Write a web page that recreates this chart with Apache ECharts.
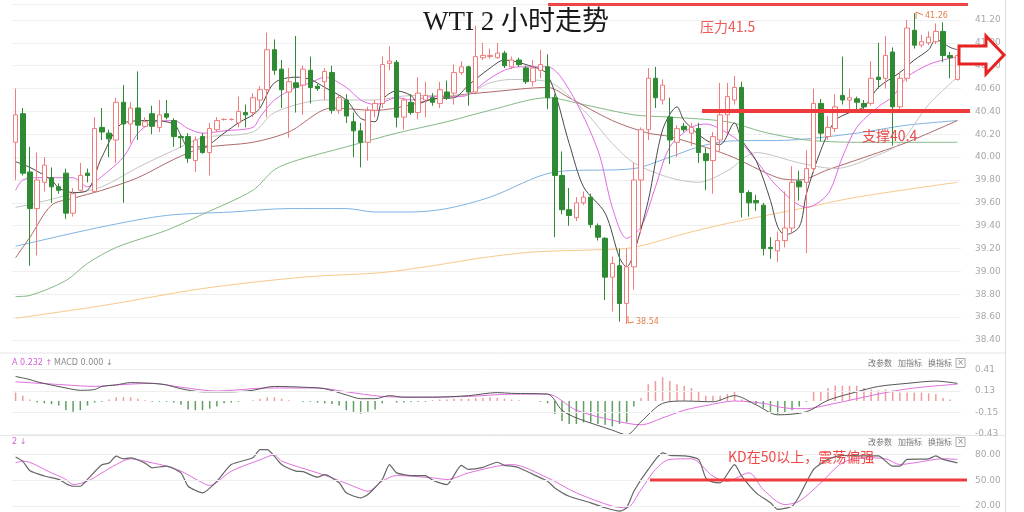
<!DOCTYPE html>
<html><head><meta charset="utf-8">
<script src="https://cdn.jsdelivr.net/npm/echarts@6/dist/echarts.min.js"></script>
<style>html,body{margin:0;padding:0;background:#fff}#c{width:1024px;height:512px}</style>
</head><body><div id="c"></div>
<script>
// candles: [open, close, low, high]
const ohlc = [
[40.13,40.37,39.80,40.60],[40.38,39.86,39.84,40.43],[39.87,39.55,39.05,40.09],[39.55,39.80,39.14,40.04],[39.78,39.93,39.70,40.00],
[39.82,39.74,39.60,39.91],[39.74,39.71,39.68,39.77],[39.86,39.51,39.46,39.90],[39.51,39.68,39.48,39.73],[39.71,39.84,39.70,39.95],
[39.86,39.84,39.78,39.90],[39.70,40.25,39.69,40.35],[40.26,40.22,40.15,40.43],[40.21,40.16,40.00,40.24],[40.15,40.48,39.95,40.52],
[40.48,40.29,39.60,40.63],[40.29,40.43,40.12,40.48],[40.43,40.28,40.15,40.75],[40.27,40.31,40.26,40.35],[40.38,40.27,40.20,40.45],
[40.26,40.37,40.22,40.50],[40.38,40.35,40.33,40.50],[40.32,40.18,40.09,40.34],[40.18,40.17,40.08,40.20],[40.18,39.99,39.95,40.21],
[39.97,40.15,39.87,40.18],[40.18,40.04,40.03,40.21],[40.04,40.25,39.84,40.30],[40.24,40.32,40.22,40.35],[40.33,40.33,40.32,40.34],
[40.33,40.33,40.32,40.34],[40.30,40.40,40.26,40.53],[40.39,40.37,40.26,40.46],[40.39,40.52,40.35,40.56],[40.50,40.59,40.42,40.62],
[40.59,40.94,40.35,41.09],[40.94,40.76,40.72,41.03],[40.77,40.59,40.43,40.85],[40.57,40.66,40.17,40.78],[40.65,40.61,40.39,41.06],
[40.63,40.77,40.37,40.80],[40.76,40.61,40.47,40.88],[40.62,40.60,40.58,40.64],[40.66,40.75,40.50,40.78],[40.74,40.41,40.38,40.80],
[40.41,40.52,40.38,40.55],[40.50,40.36,40.30,40.55],[40.31,40.23,40.00,40.39],[40.23,40.13,39.91,40.30],[40.13,40.41,39.97,40.44],
[40.41,40.47,40.35,40.50],[40.47,40.81,40.43,40.88],[40.82,40.84,40.76,40.97],[40.83,40.35,40.26,40.85],[40.35,40.50,40.24,40.52],
[40.48,40.39,40.37,40.55],[40.39,40.56,40.33,40.70],[40.50,40.54,40.35,40.66],[40.52,40.48,40.45,40.56],[40.47,40.59,40.43,40.66],
[40.57,40.52,40.50,40.67],[40.56,40.74,40.46,40.81],[40.74,40.79,40.72,40.84],[40.79,40.57,40.45,40.80],[40.57,40.88,40.55,41.15],
[40.87,40.89,40.85,41.00],[40.88,40.89,40.86,40.95],[40.87,40.91,40.86,41.00],[40.91,40.80,40.78,40.93],[40.79,40.85,40.77,40.88],
[40.85,40.81,40.79,40.87],[40.78,40.66,40.64,40.80],[40.66,40.78,40.62,40.85],[40.76,40.81,40.69,40.94],[40.79,40.52,40.42,40.90],
[40.52,39.84,39.30,40.55],[39.84,39.54,39.50,40.05],[39.54,39.49,39.40,39.73],[39.47,39.60,39.44,39.65],[39.60,39.65,39.58,39.70],
[39.65,39.41,39.38,39.68],[39.40,39.30,39.27,39.42],[39.29,38.95,38.75,39.30],[38.95,39.07,38.65,39.13],[39.05,38.72,38.56,39.20],
[38.72,39.04,38.54,39.20],[39.04,39.80,38.84,39.95],[39.80,40.24,39.33,40.26],[40.24,40.69,40.15,40.78],[40.69,40.52,40.43,40.79],
[40.50,40.63,40.46,40.68],[40.35,40.15,39.94,40.52],[40.13,40.25,40.00,40.28],[40.27,40.24,40.22,40.30],[40.21,40.26,40.10,40.30],
[40.25,40.04,39.95,40.30],[40.03,39.97,39.71,40.08],[39.97,40.18,39.68,40.22],[40.15,40.37,40.05,40.65],[40.37,40.53,40.21,40.65],
[40.50,40.61,40.46,40.71],[40.61,39.69,39.47,40.66],[39.69,39.60,39.48,39.71],[39.62,39.60,39.53,39.67],[39.58,39.20,39.14,39.60],
[39.21,39.20,39.11,39.30],[39.18,39.27,39.08,39.35],[39.27,39.38,39.21,39.70],[39.38,39.78,39.33,39.92],[39.79,39.74,39.62,39.88],
[39.78,39.90,39.16,40.06],[39.90,40.47,39.86,40.60],[40.47,40.21,40.14,40.51],[40.18,40.26,40.15,40.36],[40.25,40.44,40.22,40.55],
[40.54,40.50,40.46,40.88],[40.50,40.52,40.40,40.60],[40.51,40.48,40.40,40.53],[40.47,40.44,40.42,40.50],[40.47,40.69,40.45,40.84],
[40.70,40.68,40.60,41.00],[40.69,40.89,40.60,41.06],[40.92,40.44,40.10,40.96],[40.44,40.69,40.40,40.75],[40.69,41.13,40.66,41.20],
[41.11,40.98,40.95,41.26],[40.98,41.01,40.96,41.07],[41.00,41.05,40.98,41.10],[41.01,41.10,40.99,41.17],[41.10,40.89,40.83,41.18],
[40.89,40.87,40.69,40.92],[40.68,40.89,40.67,40.90]
];
// moving averages: [candle index, value]
const ma5 = [[0,39.96],[2,39.91],[5,39.80],[6,39.73],[8,39.69],[10,39.71],[12,40.0],[15,40.30],[19,40.32],[22,40.29],[23,40.19],[24,40.09],[26,40.09],[29,40.21],[31,40.30],[33,40.37],[34,40.43],[36,40.65],[39,40.70],[41,40.68],[43,40.61],[46,40.50],[48,40.34],[50,40.31],[51,40.50],[53,40.58],[55,40.54],[56,40.47],[58,40.51],[61,40.52],[63,40.63],[66,40.78],[68,40.85],[71,40.81],[74,40.72],[77,40.12],[79,39.74],[82,39.51],[84,39.12],[85,39.04],[86,39.16],[88,39.62],[90,40.24],[92,40.44],[93,40.32],[96,40.15],[98,40.11],[100,40.30],[101,40.15],[103,39.97],[105,39.62],[106,39.39],[107,39.32],[109,39.39],[110,39.68],[112,40.06],[114,40.32],[116,40.39],[118,40.44],[120,40.61],[123,40.74],[125,40.85],[127,40.94],[128,41.03],[130,40.96],[131,40.94]];
const ma10 = [[0,39.71],[1,39.80],[3,39.82],[8,39.82],[10,39.74],[11,39.78],[15,40.0],[17,40.21],[19,40.30],[22,40.32],[24,40.25],[26,40.21],[29,40.23],[33,40.26],[34,40.35],[36,40.50],[39,40.61],[41,40.65],[43,40.70],[46,40.61],[48,40.50],[50,40.46],[53,40.52],[55,40.50],[58,40.53],[62,40.53],[66,40.69],[68,40.76],[70,40.79],[74,40.79],[77,40.59],[81,40.06],[83,39.56],[85,39.29],[87,39.39],[89,39.74],[91,40.09],[94,40.26],[96,40.29],[99,40.21],[101,40.12],[103,39.97],[106,39.74],[110,39.56],[113,39.68],[115,40.0],[117,40.26],[120,40.44],[122,40.53],[124,40.70],[127,40.81],[129,40.85],[131,40.88]];
const ma20 = [[0,39.56],[3,39.60],[8,39.68],[12,39.74],[17,39.91],[22,40.06],[26,40.17],[33,40.22],[36,40.39],[43,40.50],[50,40.50],[55,40.54],[62,40.54],[66,40.65],[69,40.68],[74,40.66],[79,40.41],[83,40.12],[86,39.95],[91,39.82],[95,39.78],[99,39.88],[103,40.04],[109,39.95],[114,39.90],[120,40.02],[123,40.12],[127,40.46],[131,40.70]];
const ma30 = [[0,39.12],[2,39.30],[5,39.58],[8,39.64],[12,39.71],[17,39.82],[22,39.98],[26,40.08],[33,40.13],[38,40.22],[44,40.43],[50,40.41],[60,40.53],[66,40.57],[74,40.61],[77,40.52],[83,40.32],[88,40.21],[91,40.18],[99,40.02],[106,39.82],[109,39.80],[113,39.89],[120,40.04],[124,40.13],[131,40.32]];
const ma60 = [[0,38.78],[2,38.79],[7,38.92],[10,39.07],[14,39.21],[21,39.36],[26,39.50],[33,39.71],[36,39.89],[39,39.97],[46,40.09],[53,40.21],[60,40.31],[66,40.41],[74,40.52],[79,40.46],[86,40.37],[91,40.35],[99,40.31],[104,40.22],[110,40.15],[117,40.13],[131,40.13]];
const ma120 = [[0,39.22],[12,39.39],[21,39.49],[30,39.52],[38,39.55],[46,39.55],[50,39.52],[55,39.52],[60,39.55],[66,39.65],[75,39.87],[86,39.90],[91,40.0],[95,40.09],[99,40.14],[108,40.15],[117,40.21],[124,40.28],[131,40.32]];
const ma250 = [[0,38.59],[12,38.70],[26,38.85],[40,38.95],[51,38.99],[58,39.05],[65,39.12],[72,39.17],[81,39.19],[86,39.21],[93,39.33],[99,39.42],[110,39.56],[117,39.65],[131,39.78]];
// MACD panel
const macdHist = [
0.11,0.07,0.02,-0.02,-0.03,-0.04,-0.06,-0.12,-0.14,-0.12,
-0.06,-0.02,-0.01,0.02,0.05,0.05,0.05,0.03,0.01,-0.01,
-0.01,-0.01,-0.02,-0.05,-0.11,-0.12,-0.12,-0.10,-0.07,-0.03,
-0.02,-0.01,0.00,0.01,0.03,0.05,0.05,0.03,0.01,0.00,
-0.01,-0.01,-0.02,-0.03,-0.04,-0.06,-0.12,-0.14,-0.165,-0.14,
-0.11,-0.03,0.00,-0.02,-0.02,-0.01,-0.01,-0.01,0.01,0.02,
0.02,0.03,0.03,0.03,0.04,0.04,0.05,0.04,0.03,0.02,
0.01,0.00,0.00,-0.01,-0.03,-0.17,-0.26,-0.30,-0.30,-0.28,
-0.28,-0.30,-0.31,-0.33,-0.30,-0.28,-0.07,0.04,0.22,0.26,
0.31,0.26,0.22,0.20,0.17,0.13,0.07,0.07,0.07,0.09,
0.12,0.02,-0.02,-0.04,-0.09,-0.15,-0.17,-0.15,-0.12,-0.07,
-0.01,0.13,0.13,0.17,0.20,0.20,0.20,0.20,0.17,0.15,
0.14,0.15,0.14,0.11,0.11,0.11,0.11,0.10,0.09,0.04,
0.02,0.00];
const dif = [[0,0.32],[2,0.28],[3,0.25],[7,0.17],[9,0.14],[11,0.15],[12,0.19],[14,0.21],[16,0.24],[19,0.23],[21,0.21],[23,0.16],[26,0.12],[30,0.12],[33,0.14],[35,0.18],[36,0.19],[40,0.18],[43,0.16],[46,0.08],[48,0.03],[50,0.03],[52,0.07],[54,0.05],[58,0.05],[63,0.07],[67,0.11],[69,0.10],[74,0.09],[76,-0.12],[78,-0.22],[83,-0.38],[85,-0.44],[87,-0.27],[90,-0.03],[93,0.0],[97,-0.01],[100,0.07],[103,-0.05],[106,-0.18],[110,-0.14],[113,0.01],[117,0.12],[120,0.19],[124,0.23],[128,0.26],[131,0.23]];
const dea = [[0,0.25],[7,0.21],[11,0.19],[14,0.21],[19,0.23],[23,0.18],[28,0.13],[35,0.17],[42,0.17],[46,0.12],[51,0.06],[56,0.05],[63,0.06],[69,0.09],[74,0.09],[78,-0.12],[83,-0.25],[87,-0.31],[90,-0.22],[93,-0.12],[96,-0.06],[100,0.0],[104,-0.03],[107,-0.09],[110,-0.10],[113,-0.05],[117,0.03],[121,0.11],[125,0.17],[131,0.22]];
// KD panel
const kLine = [[0,77],[1,72],[2,61],[4,55],[6,51],[7,46],[8,43],[9,43],[10,51],[12,68],[13,70],[14,78],[15,75],[16,76],[18,70],[19,64.5],[21,66.4],[23,58.6],[24,43],[26,35.3],[28,48.9],[30,68.3],[33,76.2],[34,85.8],[35,85.8],[37,68.3],[39,60.6],[40,60],[42,53.6],[43,56.5],[45,47],[46,35.3],[48,29.5],[49,33.4],[51,50.9],[52,68.3],[53,58.6],[55,55.5],[57,55.5],[58,50.1],[60,45],[62,67.3],[63,62.6],[65,65],[67,71],[68,67.3],[69,66.4],[70,64.5],[73,52.8],[74,48.9],[75,41.1],[77,31.4],[80,23.7],[82,17.9],[84,14],[85,17.9],[86,37.2],[88,62.6],[90,82],[91,79],[93,78.4],[95,74.3],[96,52.8],[97,47.8],[98,47],[100,68.3],[101,54.7],[103,35.3],[105,23.7],[106,16],[108,19.8],[109,31.4],[111,62.6],[113,74.3],[115,79],[118,78.4],[120,78.4],[122,66.4],[123,66.4],[124,74.3],[127,75],[128,78.4],[129,74.3],[131,70.3]];
const dLine = [[0,70.3],[1,72.3],[5,58.6],[7,50.9],[8,45],[10,48.9],[12,58.6],[14,68.3],[16,75],[19,70.3],[21,66.4],[23,60.6],[26,47],[27,43.9],[30,60.6],[34,73.8],[36,79.6],[37,72.3],[42,58.6],[44,52.8],[47,43],[49,37.2],[51,48.9],[53,55.5],[58,52.8],[60,50.9],[63,58.6],[67,66.4],[69,68.3],[74,52.8],[78,35.3],[83,19.8],[85,17.9],[87,39.1],[89,62.6],[91,74.3],[94,75],[97,54.7],[99,48.9],[102,58.6],[104,39.1],[107,21.7],[109,25.6],[112,47],[115,70.3],[118,76.2],[121,75],[123,68.3],[125,70.3],[129,75],[131,74.3]];
const macdTicks = [0.41, 0.13, -0.15, -0.43];
const kdTicks = [20, 50, 80];

const cats = ohlc.map((_, i) => String(i));
const chart = echarts.init(document.getElementById('c'), null, {renderer: 'canvas'});
const labelStyle = {color: '#a8a8a8', fontSize: 9, fontFamily: 'DejaVu Sans'};
const gridL = 12, gridR = 63;
function xAx(gi) {
  return {type: 'category', gridIndex: gi, data: cats, boundaryGap: true,
    axisLine: {show: false}, axisTick: {show: false}, axisLabel: {show: false}, splitLine: {show: false}};
}
function maLine(data, color) {
  return {type: 'line', xAxisIndex: 0, yAxisIndex: 0, data, showSymbol: false, symbol: 'none',
    smooth: 0.3, lineStyle: {color, width: 1}, silent: true, z: 3};
}
function gridMark(vals) {
  return {symbol: 'none', silent: true, label: {show: false},
    lineStyle: {color: '#eeeeee', type: 'solid', width: 1},
    data: vals.map(v => ({yAxis: v}))};
}
function toolText(y) {
  const f = '8px "Noto Sans CJK SC"';
  return [
    {type: 'text', x: 868, y, style: {text: '改参数', font: f, fill: '#777777', textVerticalAlign: 'middle'}, z: 20},
    {type: 'text', x: 898, y, style: {text: '加指标', font: f, fill: '#777777', textVerticalAlign: 'middle'}, z: 20},
    {type: 'text', x: 928, y, style: {text: '换指标', font: f, fill: '#777777', textVerticalAlign: 'middle'}, z: 20},
    {type: 'rect', shape: {x: 956, y: y - 4.5, width: 9, height: 9}, style: {stroke: '#aaaaaa', fill: '#ffffff', lineWidth: 1}, z: 20},
    {type: 'text', x: 960.5, y: y - 0.5, style: {text: '×', font: '8px "DejaVu Sans"', fill: '#888', textAlign: 'center', textVerticalAlign: 'middle'}, z: 21}
  ];
}
const option = {
  animation: false,
  backgroundColor: '#ffffff',
  grid: [
    {left: gridL, right: gridR, top: 4, height: 336},
    {left: gridL, right: gridR, top: 355, height: 79},
    {left: gridL, right: gridR, top: 437, height: 75}
  ],
  xAxis: [xAx(0), xAx(1), xAx(2)],
  yAxis: [
    {type: 'value', gridIndex: 0, position: 'right', min: 38.4, max: 41.34, interval: 0.2, scale: true,
      axisLine: {show: false}, axisTick: {show: false},
      axisLabel: Object.assign({margin: 14, showMaxLabel: false, formatter: v => v.toFixed(2)}, labelStyle),
      splitLine: {lineStyle: {color: '#efefef'}}},
    {type: 'value', gridIndex: 1, position: 'right', min: -0.43, max: 0.6,
      axisLine: {show: false}, axisTick: {show: false, customValues: macdTicks},
      axisLabel: Object.assign({margin: 14, customValues: macdTicks, formatter: v => v.toFixed(2)}, labelStyle),
      splitLine: {show: false}},
    {type: 'value', gridIndex: 2, position: 'right', min: 13, max: 100.4,
      axisLine: {show: false}, axisTick: {show: false, customValues: kdTicks},
      axisLabel: Object.assign({margin: 14, customValues: kdTicks, formatter: v => v.toFixed(2)}, labelStyle),
      splitLine: {show: false}}
  ],
  series: [
    maLine(ma250, '#f8c98a'),
    maLine(ma120, '#80b4e2'),
    maLine(ma60, '#86b886'),
    maLine(ma30, '#b06a6a'),
    maLine(ma20, '#c4c4c4'),
    {type: 'candlestick', xAxisIndex: 0, yAxisIndex: 0, data: ohlc, barWidth: 5, z: 4,
      itemStyle: {color: '#ffffff', color0: '#2e8b33', borderColor: '#f07c7c', borderColor0: '#2e8b33', borderWidth: 1}},
    maLine(ma10, '#e36ae3'),
    maLine(ma5, '#4a4a4a'),
    {type: 'bar', xAxisIndex: 1, yAxisIndex: 1, barWidth: 1.5, silent: true,
      data: macdHist.map(v => ({value: v, itemStyle: {color: v >= 0 ? '#f09a9a' : '#5f9f5f'}})),
      markLine: gridMark(macdTicks)},
    {type: 'line', xAxisIndex: 1, yAxisIndex: 1, data: dea, showSymbol: false, smooth: 0.3, silent: true,
      lineStyle: {color: '#e070e0', width: 1}},
    {type: 'line', xAxisIndex: 1, yAxisIndex: 1, data: dif, showSymbol: false, smooth: 0.3, silent: true,
      lineStyle: {color: '#555555', width: 1}},
    {type: 'line', xAxisIndex: 2, yAxisIndex: 2, data: dLine, showSymbol: false, smooth: 0.3, silent: true,
      lineStyle: {color: '#e070e0', width: 1}, markLine: gridMark(kdTicks)},
    {type: 'line', xAxisIndex: 2, yAxisIndex: 2, data: kLine, showSymbol: false, smooth: 0.2, silent: true,
      lineStyle: {color: '#666666', width: 1.2}}
  ],
  graphic: [
    {type: 'line', shape: {x1: 0, y1: 353, x2: 1005, y2: 353}, style: {stroke: '#e6e6e6', lineWidth: 1}, silent: true},
    {type: 'line', shape: {x1: 0, y1: 435.5, x2: 1005, y2: 435.5}, style: {stroke: '#e6e6e6', lineWidth: 1}, silent: true},
    {type: 'line', shape: {x1: 1005.5, y1: 0, x2: 1005.5, y2: 512}, style: {stroke: '#dddddd', lineWidth: 1}, silent: true},
    {type: 'text', x: 516, y: 23, style: {text: 'WTI 2 小时走势', font: '27px "Liberation Serif", "Noto Sans CJK SC"', fill: '#1a1a1a', textAlign: 'center', textVerticalAlign: 'middle'}, z: 20},
    {type: 'line', shape: {x1: 548, y1: 4.5, x2: 968, y2: 4.5}, style: {stroke: '#ee4646', lineWidth: 3}, z: 20},
    {type: 'text', x: 700, y: 27, style: {text: '压力41.5', font: '14px "Noto Sans CJK SC"', fill: '#ee5a5a', textVerticalAlign: 'middle'}, z: 20},
    {type: 'line', shape: {x1: 702, y1: 111, x2: 970, y2: 111}, style: {stroke: '#ee3a3a', lineWidth: 4}, z: 20},
    {type: 'text', x: 862, y: 136, style: {text: '支撑40.4', font: '14px "Noto Sans CJK SC"', fill: '#e44c4c', textVerticalAlign: 'middle'}, z: 20},
    {type: 'polygon', shape: {points: [[959, 46], [986, 46], [986, 36], [1004, 55], [986, 74], [986, 64], [959, 64]]}, style: {stroke: '#e62222', lineWidth: 3, fill: '#ffffff'}, z: 20},
    {type: 'polyline', shape: {points: [[916, 19], [916, 12], [923, 15]]}, style: {stroke: '#e8804a', lineWidth: 1}, z: 20},
    {type: 'text', x: 925, y: 16, style: {text: '41.26', font: '8px "DejaVu Sans"', fill: '#e8804a', textVerticalAlign: 'middle'}, z: 20},
    {type: 'polyline', shape: {points: [[628, 316], [628, 323], [634, 322]]}, style: {stroke: '#e8804a', lineWidth: 1}, z: 20},
    {type: 'text', x: 636, y: 322, style: {text: '38.54', font: '8px "DejaVu Sans"', fill: '#e8804a', textVerticalAlign: 'middle'}, z: 20},
    {type: 'text', x: 12, y: 363, style: {text: 'A 0.232 ↑', font: '8px "DejaVu Sans"', fill: '#d45cd4', textVerticalAlign: 'middle'}, z: 20},
    {type: 'text', x: 54, y: 363, style: {text: 'MACD 0.000 ↓', font: '8px "DejaVu Sans"', fill: '#8a8a8a', textVerticalAlign: 'middle'}, z: 20},
    {type: 'text', x: 12, y: 442, style: {text: '2 ↓', font: '8px "DejaVu Sans"', fill: '#d45cd4', textVerticalAlign: 'middle'}, z: 20},
    ...toolText(363),
    ...toolText(442),
    {type: 'line', shape: {x1: 650, y1: 480, x2: 967, y2: 480}, style: {stroke: '#ee3a3a', lineWidth: 3}, z: 20},
    {type: 'text', x: 728, y: 457, style: {text: 'KD在50以上，震荡偏强', font: '14px "Noto Sans CJK SC"', fill: '#f04848', textVerticalAlign: 'middle'}, z: 20}
  ]
};
chart.setOption(option);
</script>
</body></html>
